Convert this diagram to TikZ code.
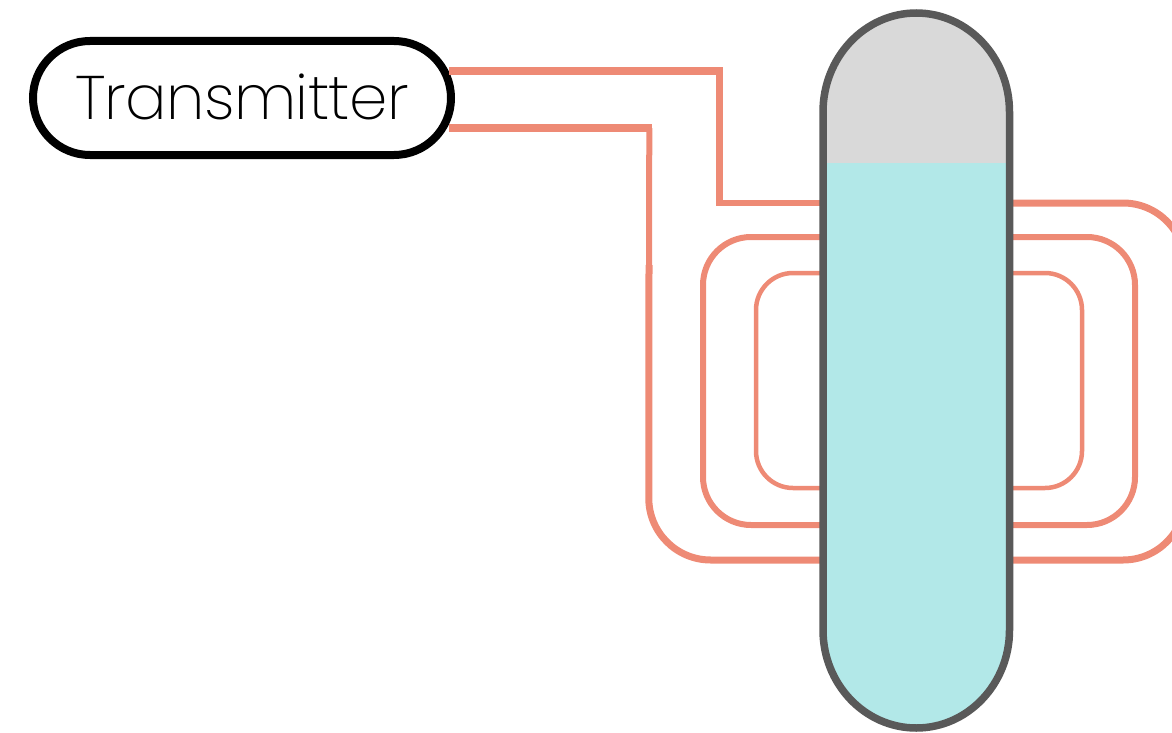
\documentclass[tikz,border=0pt]{standalone}
\usepackage{fontspec}
\usepackage{xcolor}
\usetikzlibrary{shapes.misc}
\setmainfont{Poppins}[UprightFont=* ExtraLight, LetterSpace=-1]
\definecolor{wirecol}{HTML}{EE8A75}
\definecolor{vesselcol}{HTML}{595959}
\definecolor{liquidcol}{HTML}{B2E8E8}
\definecolor{gascol}{HTML}{D9D9D9}
\tikzset{
  wire/.style={draw=wirecol, line width=#1, line join=miter},
  transmitter box/.style={
    rounded rectangle, draw=black, fill=white, line width=8pt,
    minimum width=418pt, minimum height=114pt, inner sep=0pt,
    font=\fontsize{61.5}{61.5}\selectfont
  },
  vessel shell/.style={draw=vesselcol, line width=7.5pt},
}
\def\vesselpath{
  (823,112)
  .. controls (823,57.3) and (864.7,13) .. (916.25,13)
  .. controls (967.8,13) and (1009.5,57.3) .. (1009.5,112)
  -- (1009.5,630)
  .. controls (1009.5,684) and (967.8,728) .. (916.25,728)
  .. controls (864.7,728) and (823,684) .. (823,630)
  -- cycle
}

\begin{document}
\begin{tikzpicture}[x=1pt, y=-1pt]
  \useasboundingbox (0,0) rectangle (1172,733);
  \clip (0,0) rectangle (1172,733);
  \node [transmitter box] (transmitter) at (242,98) {\raisebox{2pt}{Transmitter}};
  \coordinate (upper bend) at (719.5,71);
  \coordinate (lower bend) at (649.3,128);
  \coordinate (wire step) at (649,265);
  \draw[wire=8pt]
    (transmitter.7.4 |- upper bend) -- ([xshift=3pt]upper bend)
  ;
  \draw[wire=6.5pt]
    (upper bend) -- (719.5,203) -- (1000,203)
  ;
  \draw[wire=7.5pt]
    (transmitter.-7.4 |- lower bend) -- ([xshift=3pt]lower bend)
  ;
  \draw[wire=6pt]
    (lower bend) -- (wire step)
  ;
  \draw[wire=7pt, rounded corners=62pt]
    (wire step) -- (648.7,560) -- (1185,560) -- (1185,203) -- (900,203)
  ;
  \draw[wire=6pt, rounded corners=48pt]
    (703,237) rectangle (1135,525)
  ;
  \draw[wire=4.5pt, rounded corners=37pt]
    (756,273) rectangle (1082,488)
  ;
  \begin{scope}
    \clip \vesselpath;
    \fill[liquidcol] (823,13) rectangle (1009.5,728);
    \fill[gascol] (823,13) rectangle (1009.5,163);
  \end{scope}
  \draw[vessel shell] \vesselpath;
\end{tikzpicture}
\end{document}
